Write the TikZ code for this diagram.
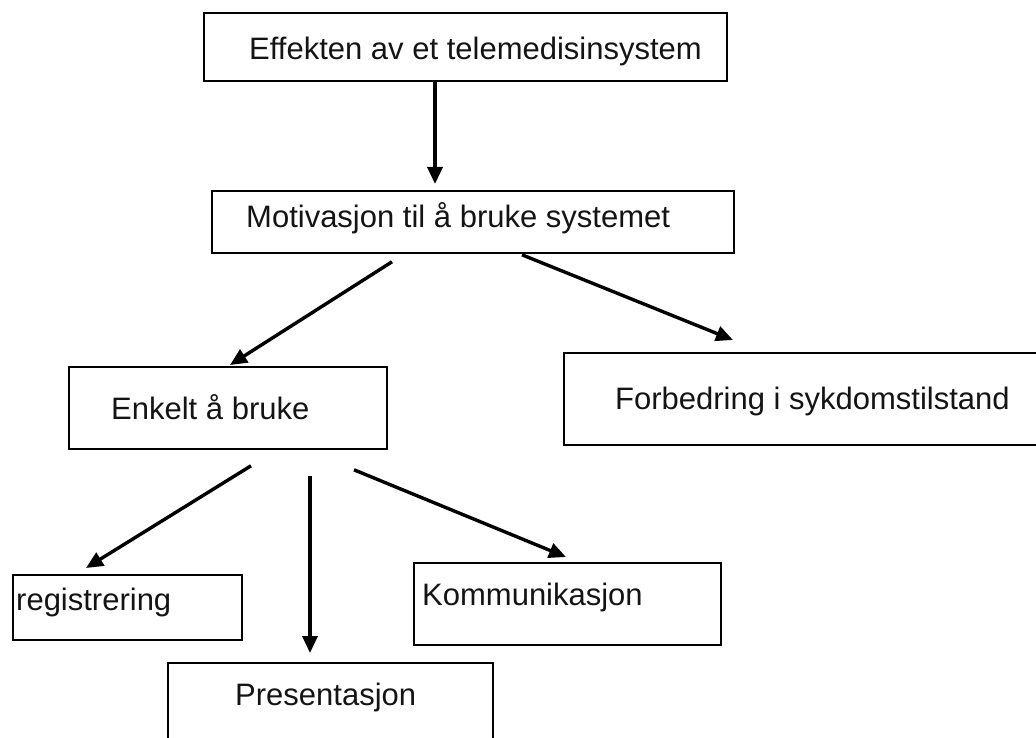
\documentclass[tikz,border=0pt]{standalone}
\usepackage{fontspec}
\setmainfont{Liberation Sans}
\usetikzlibrary{arrows.meta}
\begin{document}
\begin{tikzpicture}[x=1pt,y=-1pt,
  box/.style={draw=black, line width=1.8pt, rectangle, anchor=north west, inner sep=0pt},
  lbl/.style={anchor=base west, inner sep=0pt, font=\fontsize{31}{37}\selectfont, text=black!92},
  conn/.style={draw=black, line width=3.4pt, -{Triangle[length=17pt,width=15pt]}}]
\useasboundingbox (0,0) rectangle (1036,738);
\clip (0,0) rectangle (1036,738);
% boxes
\node[box, minimum width=523pt, minimum height=68pt] (eff)  at (203,12)  {};
\node[box, minimum width=522pt, minimum height=62pt] (mot)  at (211,190) {};
\node[box, minimum width=318pt, minimum height=82pt] (enk)  at (68,366)  {};
\node[box, minimum width=480pt, minimum height=92pt] (forb) at (563,352) {};
\node[box, minimum width=229pt, minimum height=65pt] (reg)  at (12,574)  {};
\node[box, minimum width=307pt, minimum height=82pt] (kom)  at (413,562) {};
\node[box, minimum width=325pt, minimum height=100pt] (pres) at (167,662) {};
% labels
\node[lbl] (teff)  at (249,60)  {Effekten av et telemedisinsystem};
\node[lbl] (tmot)  at (246,228) {Motivasjon til å bruke systemet};
\node[lbl] (tenk)  at (111,419) {Enkelt å bruke};
\node[lbl] (tforb) at (615,409) {Forbedring i sykdomstilstand};
\node[lbl] (treg)  at (16,610)  {registrering};
\node[lbl] (tkom)  at (422,605) {Kommunikasjon};
\node[lbl] (tpres) at (235,705) {Presentasjon};
% connectors
\draw[conn] ([xshift=232pt]eff.south west) -- ([xshift=224pt,yshift=6pt]mot.north west);
\draw[conn] ([xshift=181pt,yshift=-8pt]mot.south west) -- ([xshift=162pt,yshift=1pt]enk.north west);
\draw[conn] ([xshift=311pt,yshift=-1pt]mot.south west) -- ([xshift=170pt,yshift=12pt]forb.north west);
\draw[conn] ([xshift=183pt,yshift=-16pt]enk.south west) -- ([xshift=74pt,yshift=6pt]reg.north west);
\draw[conn] ([xshift=242pt,yshift=-26pt]enk.south west) -- ([xshift=143pt,yshift=9pt]pres.north west);
\draw[conn] ([xshift=286pt,yshift=-20pt]enk.south west) -- ([xshift=153pt,yshift=5pt]kom.north west);
\end{tikzpicture}
\end{document}
